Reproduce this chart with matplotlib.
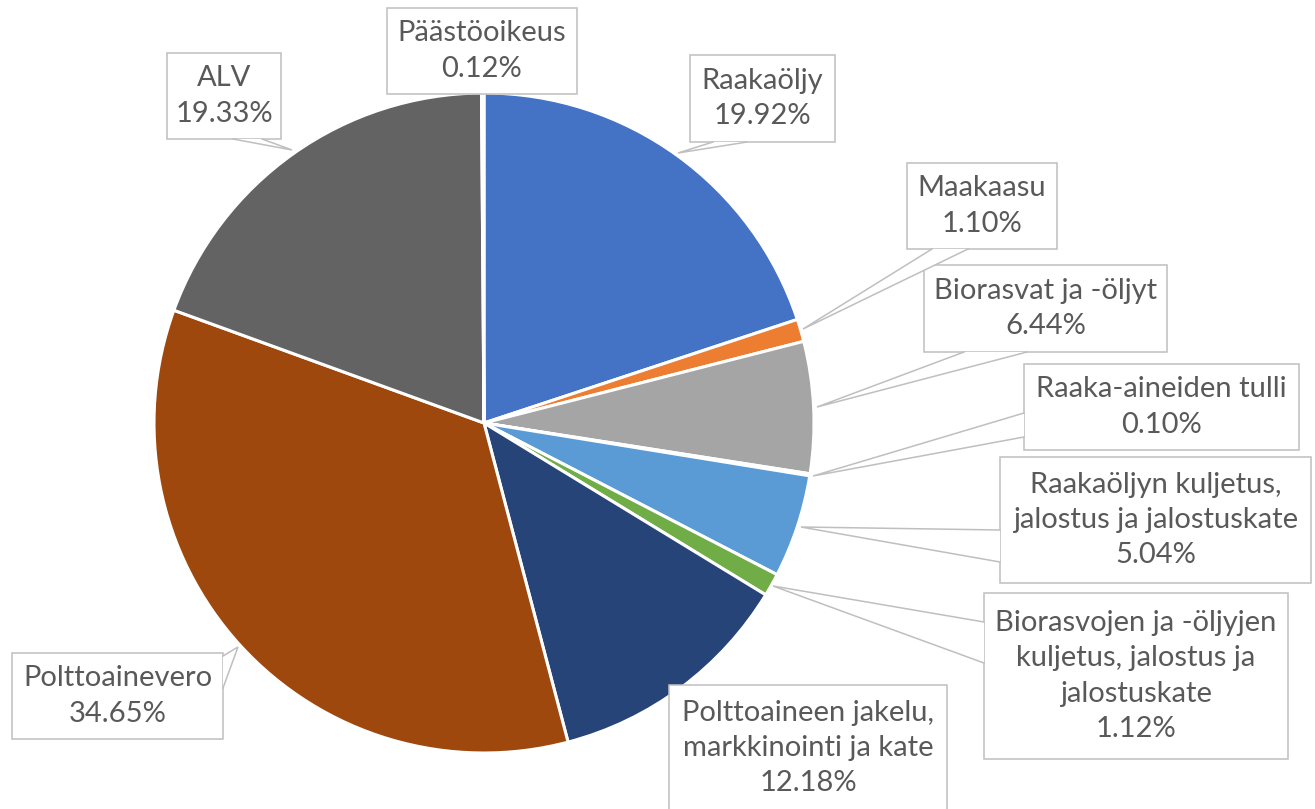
import matplotlib
matplotlib.use("Agg")
import matplotlib.pyplot as plt
from matplotlib.patches import Rectangle, Polygon

# ---- data -----------------------------------------------------------------
labels = [
    "Raakaöljy",
    "Maakaasu",
    "Biorasvat ja -öljyt",
    "Raaka-aineiden tulli",
    "Raakaöljyn kuljetus,\njalostus ja jalostuskate",
    "Biorasvojen ja -öljyjen\nkuljetus, jalostus ja\njalostuskate",
    "Polttoaineen jakelu,\nmarkkinointi ja kate",
    "Polttoainevero",
    "ALV",
    "Päästöoikeus",
]
shares = [19.92, 1.10, 6.44, 0.10, 5.04, 1.12, 12.18, 34.65, 19.33, 0.12]
colors = ["#4472C4", "#ED7D31", "#A5A5A5", "#FFC000", "#5B9BD5",
          "#70AD47", "#264478", "#9E480E", "#636363", "#997300"]

# ---- callout layout (pixel coords: box, pointer base 1, base 2, tip) --------
callouts = [
    ((690, 55, 835, 142), ((713, 142), (747, 142), (678, 153))),
    ((907, 163, 1057, 249), ((932, 249), (968, 249), (803, 329))),
    ((924, 265, 1167, 352), ((964, 352), (1027, 352), (817, 407))),
    ((1024, 364, 1299, 450), ((1024, 413), (1024, 437), (813, 476))),
    ((1000, 457, 1311, 583), ((1000, 530), (1000, 562), (801, 527))),
    ((984, 593, 1288, 759), ((984, 622), (984, 663), (773, 586))),
    ((669, 685, 947, 830), None),
    ((12, 653, 223, 739), ((223, 656), (223, 688), (238, 647))),
    ((167, 53, 281, 139), ((233, 139), (262, 139), (292, 150))),
    ((387, 8, 577, 94), None),
]
text_y = {6: 748}

W, H = 1315, 809
CX, CY, R = 484, 423, 330
EDGE = "#BFBFBF"
TXT = "#595959"

fig = plt.figure(figsize=(W / 100, H / 100), dpi=100)
ax = fig.add_axes([0, 0, 1, 1])

# y axis runs downwards, so counterclock in data is clockwise on screen
ax.pie(shares, colors=colors, startangle=-90, counterclock=True,
       center=(CX, CY), radius=R, frame=True,
       wedgeprops=dict(edgecolor="white", linewidth=2.2))

ax.set_xlim(0, W)
ax.set_ylim(H, 0)
ax.set_aspect("equal")
ax.axis("off")

for i, (lab, val) in enumerate(zip(labels, shares)):
    (x0, y0, x1, y1), ptr = callouts[i]
    ax.add_patch(Rectangle((x0, y0), x1 - x0, y1 - y0, facecolor="white",
                           edgecolor=EDGE, linewidth=1.1, zorder=3))
    if ptr is not None:
        b1, b2, tip = ptr
        ax.add_patch(Polygon([b1, tip, b2], closed=True, facecolor="white",
                             edgecolor="none", zorder=4))
        ax.plot([b1[0], tip[0], b2[0]], [b1[1], tip[1], b2[1]],
                color=EDGE, linewidth=1.1, zorder=5, solid_joinstyle="miter")
    ty = text_y.get(i, (y0 + y1) / 2)
    ax.text((x0 + x1) / 2, ty, f"{lab}\n{val:.2f}%", ha="center", va="center",
            fontsize=21, color=TXT, family="Lato", linespacing=1.45, zorder=6)

fig.savefig("out.png", dpi=100)
